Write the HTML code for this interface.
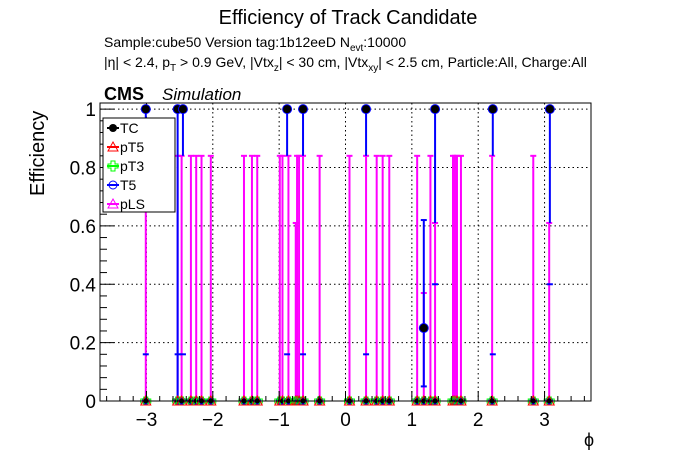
<!DOCTYPE html>
<html><head><meta charset="utf-8"><style>
body{margin:0;background:#fff;}
svg{display:block;font-family:"Liberation Sans",sans-serif;}
</style></head><body>
<svg id="c" width="696" height="472">
<text x="348" y="24" font-size="20" text-anchor="middle">Efficiency of Track Candidate</text>
<text x="104" y="47" font-size="14">Sample:cube50   Version tag:1b12eeD  N<tspan font-size="10" dy="4">evt</tspan><tspan dy="-4">:10000</tspan></text>
<text x="104" y="67" font-size="14">|η| &lt; 2.4, p<tspan font-size="10" dy="4">T</tspan><tspan dy="-4"> &gt; 0.9 GeV, |Vtx</tspan><tspan font-size="10" dy="4">z</tspan><tspan dy="-4">| &lt; 30 cm, |Vtx</tspan><tspan font-size="10" dy="4">xy</tspan><tspan dy="-4">| &lt; 2.5 cm, Particle:All, Charge:All</tspan></text>
<text x="104" y="100" font-size="18" font-weight="bold">CMS</text>
<text x="162" y="100" font-size="17" font-style="italic">Simulation</text>
<text transform="translate(44,196) rotate(-90)" font-size="20" text-anchor="start">Efficiency</text>
<text x="584" y="446" font-size="18">ϕ</text>
<g id="grid"></g><g id="marks"></g><g id="axes"></g>
<g>
<rect x="103" y="118" width="72" height="94" fill="#fff" stroke="#000" stroke-width="1"/>
<g font-size="14">
<line x1="107" y1="128" x2="119" y2="128" stroke="#000" stroke-width="2"/><circle cx="113" cy="128" r="4" fill="#000"/><text x="120" y="133">TC</text>
<line x1="107" y1="147" x2="119" y2="147" stroke="#f00" stroke-width="2"/><path d="M113 142 L118 151 L108 151Z" fill="none" stroke="#f00"/><text x="120" y="152">pT5</text>
<line x1="107" y1="166" x2="119" y2="166" stroke="#0f0" stroke-width="2"/><path d="M111 161h4v3h3v4h-3v3h-4v-3h-3v-4h3z" fill="none" stroke="#0f0"/><text x="120" y="171">pT3</text>
<line x1="107" y1="185" x2="119" y2="185" stroke="#00f" stroke-width="2"/><circle cx="113" cy="185" r="4" fill="none" stroke="#00f"/><text x="120" y="190">T5</text>
<line x1="107" y1="204" x2="119" y2="204" stroke="#f0f" stroke-width="2"/><path d="M113 199 L118 208 L108 208Z" fill="none" stroke="#f0f"/><text x="120" y="209">pLS</text>
</g></g>
</svg>
<script>
const xTicks=[-3,-2,-1,0,1,2,3];
const yTicks=[0,0.2,0.4,0.6,0.8,1];
const yTickLabels=["0","0.2","0.4","0.6","0.8","1"];
// TC points with efficiency 1 (blue lower error down to tcLow)
const tcPhi=[-3.01,-2.53,-2.45,-0.88,-0.64,0.31,1.35,2.22,3.08];
const tcEff=[1,1,1,1,1,1,1,1,1];
const tcLow=[0.84,0.0,0.84,0.84,0.84,0.84,0.61,0.84,0.61];
const tcMid=[0.16,0.16,0.16,0.16,0.16,0.16,0.4,0.16,0.4];
// partial point
const partPhi=[1.18];const partEff=[0.25];const partLow=[0.05];const partHigh=[0.62];
// pLS zero-efficiency bars (upper error)
const plsPhi=[-3.01,-2.53,-2.47,-2.33,-2.25,-2.17,-2.03,-1.53,-1.41,-1.33,-0.99,-0.95,-0.86,-0.75,-0.73,-0.70,-0.64,-0.39,0.06,0.31,0.47,0.56,0.66,1.08,1.18,1.28,1.35,1.62,1.65,1.68,1.74,2.21,2.83,3.07];
const plsUp=[0.84,0.84,0.84,0.84,0.84,0.84,0.84,0.84,0.84,0.84,0.84,0.84,0.84,0.61,0.84,0.84,0.84,0.84,0.84,0.84,0.84,0.84,0.84,0.84,0.37,0.84,0.61,0.84,0.84,0.84,0.84,0.84,0.84,0.61];
const L=100,R=591,T=103,B=401,xmin=-3.7,xmax=3.7,ymin=0,ymax=1.021;
const X=v=>L+(v-xmin)/(xmax-xmin)*(R-L);
const Y=v=>B-(v-ymin)/(ymax-ymin)*(B-T);
const NS="http://www.w3.org/2000/svg";
function el(p,t,a){const e=document.createElementNS(NS,t);for(const k in a)e.setAttribute(k,a[k]);p.appendChild(e);return e;}
const grid=document.getElementById('grid'),marks=document.getElementById('marks'),axes=document.getElementById('axes');
xTicks.forEach(v=>{const l=el(grid,'line',{x1:X(v),x2:X(v),y1:T,y2:B,stroke:'#000','stroke-dasharray':'1.5,3'});

});
yTicks.forEach(v=>{const l=el(grid,'line',{x1:L,x2:R,y1:Y(v),y2:Y(v),stroke:'#000','stroke-dasharray':'1.5,3'});

});
// pLS bars
plsPhi.forEach((p,i)=>{const g=el(marks,'g',{});


el(g,'line',{x1:X(p),x2:X(p),y1:Y(0),y2:Y(plsUp[i]),stroke:'#f0f','stroke-width':2});
el(g,'line',{x1:X(p)-3,x2:X(p)+3,y1:Y(plsUp[i]),y2:Y(plsUp[i]),stroke:'#f0f','stroke-width':2});});
// TC points
tcPhi.forEach((p,i)=>{const g=el(marks,'g',{});


el(g,'line',{x1:X(p),x2:X(p),y1:Y(tcEff[i]),y2:Y(tcLow[i]),stroke:'#00f','stroke-width':2});
el(g,'line',{x1:X(p)-3,x2:X(p)+3,y1:Y(tcMid[i]),y2:Y(tcMid[i]),stroke:'#00f','stroke-width':2});
el(g,'circle',{cx:X(p),cy:Y(tcEff[i]),r:4.5,fill:'#000',stroke:'#00f'});});
partPhi.forEach((p,i)=>{const g=el(marks,'g',{});


el(g,'line',{x1:X(p),x2:X(p),y1:Y(partLow[i]),y2:Y(partHigh[i]),stroke:'#00f','stroke-width':2});
el(g,'line',{x1:X(p)-3,x2:X(p)+3,y1:Y(partHigh[i]),y2:Y(partHigh[i]),stroke:'#00f','stroke-width':2});
el(g,'line',{x1:X(p)-3,x2:X(p)+3,y1:Y(partLow[i]),y2:Y(partLow[i]),stroke:'#00f','stroke-width':2});
el(g,'circle',{cx:X(p),cy:Y(partEff[i]),r:4.5,fill:'#000',stroke:'#00f'});});
// zero markers
plsPhi.forEach(p=>{const g=el(marks,'g',{});


const x=X(p),y=Y(0);
el(g,'circle',{cx:x,cy:y,r:4,fill:'#00f'});
el(g,'path',{d:`M${x-2} ${y-4}h4v2h3v4h-3v2h-4v-2h-3v-4h3z`,fill:'none',stroke:'#0f0'});
el(g,'path',{d:`M${x} ${y-5}L${x+5} ${y+4}L${x-5} ${y+4}Z`,fill:'none',stroke:'#f00'});
el(g,'circle',{cx:x,cy:y,r:2.5,fill:'#000'});});
// frame & ticks
el(axes,'rect',{x:L,y:T,width:R-L,height:B-T,fill:'none',stroke:'#000'});
for(let v=-3.6;v<=3.61;v+=0.2){const big=Math.abs(v-Math.round(v))<1e-6;
el(axes,'line',{x1:X(v),x2:X(v),y1:B,y2:B-(big?10:5),stroke:'#000'});}
for(let v=0;v<=1.001;v+=0.04){const big=Math.abs(v*5-Math.round(v*5))<1e-6;
el(axes,'line',{x1:L,x2:L+(big?14:7),y1:Y(v),y2:Y(v),stroke:'#000'});}
xTicks.forEach(v=>{const t=el(axes,'text',{x:X(v),y:B+25,'font-size':19,'text-anchor':'middle'});t.textContent=v<0?'\u2212'+(-v):String(v);

});
yTicks.forEach((v,i)=>{const t=el(axes,'text',{x:L-4,y:Y(v)+7,'font-size':19,'text-anchor':'end'});t.textContent=yTickLabels[i];

});
</script>
</body></html>
